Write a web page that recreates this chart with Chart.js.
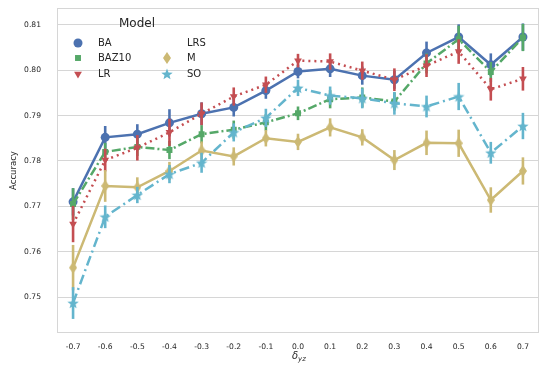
<!DOCTYPE html>
<html>
<head>
<meta charset="utf-8">
<script src="https://cdn.jsdelivr.net/npm/chart.js@4"></script>
<style>
  html, body { margin: 0; padding: 0; background: #fff; }
  #wrap { width: 540px; height: 369px; }
</style>
</head>
<body>
<div id="wrap"><canvas id="chart" width="540" height="369"></canvas></div>
<script>
// dados
const categorias = ["-0.7","-0.6","-0.5","-0.4","-0.3","-0.2","-0.1","0.0","0.1","0.2","0.3","0.4","0.5","0.6","0.7"];
const yTicks = [0.75, 0.76, 0.77, 0.78, 0.79, 0.80, 0.81];

const baVals    = [0.7710, 0.7852, 0.7859, 0.7884, 0.7904, 0.7918, 0.7955, 0.7997, 0.8003, 0.7988, 0.7979, 0.8038, 0.8073, 0.8012, 0.8073];
const baz10Vals = [0.7705, 0.7820, 0.7831, 0.7824, 0.7859, 0.7869, 0.7885, 0.7905, 0.7936, 0.7940, 0.7931, 0.8015, 0.8068, 0.7996, 0.8072];
const lrVals    = [0.7661, 0.7802, 0.7829, 0.7863, 0.7904, 0.7942, 0.7968, 0.8021, 0.8019, 0.7999, 0.7979, 0.8010, 0.8041, 0.7958, 0.7981];
const mVals     = [0.7565, 0.7745, 0.7742, 0.7778, 0.7823, 0.7810, 0.7850, 0.7842, 0.7874, 0.7852, 0.7802, 0.7840, 0.7839, 0.7714, 0.7778];
const soVals    = [0.7487, 0.7677, 0.7725, 0.7771, 0.7796, 0.7863, 0.7895, 0.7961, 0.7944, 0.7938, 0.7927, 0.7920, 0.7942, 0.7818, 0.7877];

// meia-largura das barras de erro
const baErr    = [0.003, 0.0025, 0.0022, 0.003, 0.0025, 0.002, 0.0018, 0.0015, 0.0018, 0.002, 0.002, 0.0025, 0.0028, 0.0025, 0.003];
const baz10Err = [0.0035, 0.002, 0.002, 0.002, 0.002, 0.002, 0.0018, 0.0015, 0.002, 0.0022, 0.002, 0.0022, 0.003, 0.0022, 0.003];
const lrErr    = [0.004, 0.0025, 0.0028, 0.003, 0.0025, 0.002, 0.0018, 0.0015, 0.0018, 0.002, 0.0025, 0.0025, 0.0027, 0.0025, 0.0026];
const mErr     = [0.005, 0.0035, 0.0022, 0.002, 0.002, 0.002, 0.0018, 0.0018, 0.002, 0.0018, 0.0022, 0.0027, 0.003, 0.0028, 0.003];
const soErr    = [0.0035, 0.0025, 0.0018, 0.002, 0.0022, 0.002, 0.002, 0.0018, 0.002, 0.0022, 0.0025, 0.0024, 0.003, 0.0024, 0.0029];

const FONT = "'DejaVu Sans', sans-serif";
const TXT = "#262626";

const series = [
  { label: "BA",    data: baVals,    err: baErr,    color: "#4C72B0", style: "circle",   dash: [] },
  { label: "BAZ10", data: baz10Vals, err: baz10Err, color: "#55A868", style: "rect",     dash: [9, 3, 2, 3] },
  { label: "LR",    data: lrVals,    err: lrErr,    color: "#C44E52", style: "triangle", rot: 180, dash: [2, 4] },
  { label: "M",     data: mVals,     err: mErr,     color: "#CCB974", style: "diamond",  dash: [] },
  { label: "SO",    data: soVals,    err: soErr,    color: "#64B5CD", style: "star",     dash: [10, 4, 2, 4] }
];

// losango estreito (marker 'd' do seaborn)
const diamond = document.createElement("canvas");
diamond.width = 8; diamond.height = 12;
(function(){
  const c = diamond.getContext("2d");
  c.fillStyle = "#CCB974";
  c.beginPath(); c.moveTo(4,0); c.lineTo(8,6); c.lineTo(4,12); c.lineTo(0,6); c.closePath(); c.fill();
})();

// estrela preenchida
const star = document.createElement("canvas");
star.width = 12; star.height = 12;
(function(){
  const c = star.getContext("2d");
  c.fillStyle = "#64B5CD";
  c.beginPath();
  for (let i = 0; i < 10; i++) {
    const r = i % 2 === 0 ? 6 : 2.6;
    const a = -Math.PI/2 + i * Math.PI/5;
    const px = 6 + r*Math.cos(a), py = 6.5 + r*Math.sin(a);
    if (i === 0) c.moveTo(px, py); else c.lineTo(px, py);
  }
  c.closePath(); c.fill();
})();

function estiloPonto(s) {
  if (s.style === "diamond") return diamond;
  if (s.style === "star") return star;
  return s.style;
}

const datasets = series.map((s, i) => ({
  label: s.label,
  data: s.data,
  borderColor: s.color,
  backgroundColor: s.color,
  borderWidth: 2.5,
  borderDash: s.dash,
  pointStyle: estiloPonto(s),
  pointRotation: s.rot || 0,
  pointRadius: s.style === "rect" ? 4.2 : 4.5,
  pointBorderWidth: 0,
  tension: 0,
  fill: false,
  order: series.length - i,
  errs: s.err
}));

// barras de erro, desenhadas antes de cada linha
const errorBars = {
  id: "errorBars",
  beforeDatasetDraw(chart, args) {
    const ds = chart.data.datasets[args.index];
    const y = chart.scales.y, x = chart.scales.x;
    const ctx = chart.ctx;
    ctx.save();
    ctx.strokeStyle = ds.borderColor;
    ctx.lineWidth = 2.6;
    ctx.setLineDash([]);
    ds.data.forEach((v, i) => {
      const px = x.getPixelForValue(i);
      ctx.beginPath();
      ctx.moveTo(px, y.getPixelForValue(v - ds.errs[i]));
      ctx.lineTo(px, y.getPixelForValue(v + ds.errs[i]));
      ctx.stroke();
    });
    ctx.restore();
  }
};

// moldura, legenda e título do eixo x
const extras = {
  id: "extras",
  beforeDatasetsDraw(chart) {
    const { ctx, chartArea: a } = chart;
    ctx.save();
    ctx.strokeStyle = "#d6d6d6";
    ctx.lineWidth = 1;
    ctx.strokeRect(a.left + 0.5, a.top + 0.5, a.right - a.left - 1, a.bottom - a.top - 1);
    ctx.restore();
  },
  afterDraw(chart) {
    const ctx = chart.ctx;
    const a = chart.chartArea;
    ctx.save();
    ctx.fillStyle = TXT;
    ctx.textBaseline = "middle";
    ctx.textAlign = "center";
    ctx.font = "12px " + FONT;
    ctx.fillText("Model", 137, 24);

    ctx.font = "10px " + FONT;
    ctx.textAlign = "left";
    const itens = [
      { s: series[0], x: 78, y: 43 },
      { s: series[1], x: 78, y: 58 },
      { s: series[2], x: 78, y: 74 },
      { s: null, label: "LRS", x: 167, y: 43 },
      { s: series[3], x: 167, y: 58 },
      { s: series[4], x: 167, y: 74 }
    ];
    itens.forEach(it => {
      if (it.s) {
        ctx.fillStyle = it.s.color;
        Chart.helpers.drawPoint(ctx, {
          pointStyle: estiloPonto(it.s),
          rotation: it.s.rot || 0,
          radius: it.s.style === "rect" ? 4.2 : 4.5,
          borderWidth: 0
        }, it.x, it.y);
      }
      ctx.fillStyle = TXT;
      ctx.fillText(it.s ? it.s.label : it.label, it.x + 20, it.y + 0.5);
    });

    // δ_yz
    const cx = (a.left + a.right) / 2;
    ctx.font = "italic 10px " + FONT;
    ctx.textAlign = "right";
    ctx.fillText("δ", cx, 356);
    ctx.font = "italic 7px " + FONT;
    ctx.textAlign = "left";
    ctx.fillText("yz", cx, 359);
    ctx.restore();
  }
};

new Chart(document.getElementById("chart").getContext("2d"), {
  type: "line",
  data: { labels: categorias, datasets },
  options: {
    responsive: false,
    animation: false,
    layout: { autoPadding: false, padding: { top: 8, right: 1, left: 0, bottom: 0 } },
    plugins: { legend: { display: false }, tooltip: { enabled: false } },
    scales: {
      x: {
        offset: true,
        grid: { display: false, drawTicks: false },
        border: { display: false },
        ticks: { color: TXT, font: { family: FONT, size: 7.6 }, padding: 9, maxRotation: 0, autoSkip: false },
        afterFit: s => { s.height = 36; s.paddingLeft = 0; s.paddingRight = 0; }
      },
      y: {
        min: 0.7421,
        max: 0.8137,
        grid: { color: "#d6d6d6", lineWidth: 1, drawTicks: false },
        border: { display: false },
        afterBuildTicks: s => { s.ticks = yTicks.map(v => ({ value: v })); },
        ticks: { color: TXT, font: { family: FONT, size: 7.6 }, padding: 16, callback: v => Number(v).toFixed(2) },
        title: { display: true, text: "Accuracy", color: TXT, font: { family: FONT, size: 8.5 }, padding: { top: 9, bottom: 0 } },
        afterFit: s => { s.width = 57; s.paddingTop = 0; s.paddingBottom = 0; }
      }
    }
  },
  plugins: [errorBars, extras]
});
</script>
</body>
</html>
